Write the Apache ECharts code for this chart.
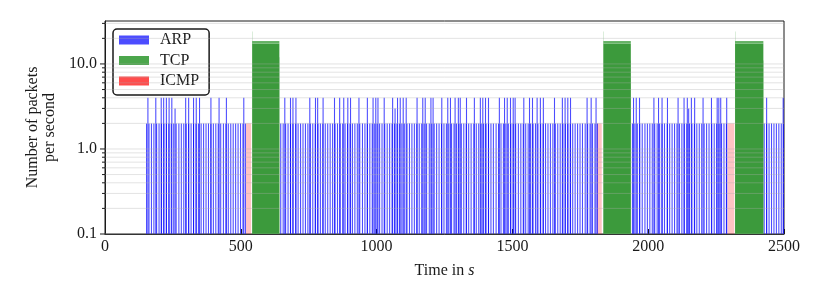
<!DOCTYPE html>
<html><head><meta charset="utf-8">
<script src="https://cdn.jsdelivr.net/npm/echarts@6/dist/echarts.min.js"></script>
<style>html,body{margin:0;padding:0;background:#fff}#c{width:822px;height:304px}</style>
</head><body><div id="c"></div>
<script>
// ---- tick values / labels ----
const xTicks = [0, 500, 1000, 1500, 2000, 2500];
const yMajorTicks = [0.1, 1, 10];
const yMajorLabels = ['0.1', '1.0', '10.0'];
const yMinorTicks = [0.2,0.3,0.4,0.5,0.6,0.7,0.8,0.9,2,3,4,5,6,7,8,9,20,30];

// ---- ARP: periodic packets (count 2) ----
const arpBaseCount = 2;
const arpBaseTimes = [
151,160,169,178,188,197,206,215,224,233,242,251,260,270,279,288,297,306,315,324,333,342,352,361,370,379,388,397,406,415,424,434,443,452,461,470,479,488,497,506,515,
645,654,663,672,681,690,700,709,718,727,736,745,754,763,772,782,791,800,809,818,827,836,845,854,864,873,882,891,900,909,918,927,936,946,955,964,973,982,991,1000,
1009,1018,1028,1037,1046,1055,1064,1073,1082,1091,1100,1110,1119,1128,1137,1146,1155,1164,1173,1182,1192,1201,1210,1219,1228,1237,1246,1255,1264,1274,1283,1292,
1301,1310,1319,1328,1337,1346,1356,1365,1374,1383,1392,1401,1410,1419,1428,1438,1447,1456,1465,1474,1483,1492,1501,1510,1520,1529,1538,1547,1556,1565,1574,1583,
1592,1602,1611,1620,1629,1638,1647,1656,1665,1674,1684,1693,1702,1711,1720,1729,1738,1747,1756,1766,1775,1784,1793,1802,1811,
1940,1949,1958,1967,1976,1986,1995,2004,2013,2022,2031,2040,2049,2058,2068,2077,2086,2095,2104,2113,2122,2131,2140,2150,2159,2168,2177,2186,2195,2204,2213,2222,
2232,2241,2250,2259,2268,2277,2286,
2425,2434,2443,2452,2461,2470,2479,2488,2497
];
// ---- ARP: bursts [time, count] ----
const arpBursts = [
[156,4],[185,4],[205,4],[214,4],[224,4],[234,4],[244,4],[256,3],[295,4],[306,4],[324,4],[334,4],[346,4],[388,4],[418,4],[445,4],[509,4],
[660,4],[681,4],[690,4],[701,4],[752,4],[773,4],[781,4],[801,4],[843,4],[862,4],[877,4],[892,4],[902,4],[933,4],[964,4],[985,4],[995,4],[1003,4],
[1026,4],[1057,4],[1066,3],[1075,4],[1085,4],[1096,4],[1107,4],[1147,4],[1168,4],[1177,4],[1198,4],[1206,4],[1238,4],[1260,4],[1270,4],[1287,4],
[1299,4],[1306,4],[1329,4],[1358,4],[1380,4],[1389,4],[1399,4],[1410,4],[1450,4],[1469,4],[1479,4],[1491,4],[1501,4],[1508,4],[1540,4],[1561,4],
[1572,4],[1589,4],[1601,4],[1612,4],[1653,4],[1682,4],[1692,4],[1702,4],[1712,4],[1773,4],[1788,4],[1806,4],
[1944,4],[1954,4],[1966,4],[2019,4],[2036,4],[2049,4],[2069,4],[2108,4],[2130,4],[2142,4],[2147,3],[2157,4],[2169,4],[2200,4],[2231,4],[2252,4],
[2258,4],[2265,4],[2287,4],
[2434,4],[2495,4]
];
// ---- TCP bursts: [start, end, sustained rate, peak rate] ----
const tcpBlocks = [[542,642,17.3,18.6],[1835,1936,17.3,18.6],[2320,2424,17.3,18.6]];
// ---- TCP single-second edges [time, count] ----
const tcpEdges = [[542,24],[1835,24],[2320,24],[641,12],[1935,11],[2423,11]];
// ---- ICMP: [start, end, count] ----
const icmpBlocks = [[519,538,2],[1811,1829,2],[2292,2317,2]];

const FONT = 'Liberation Serif';
const INK = '#1a1a1a';
const BLUE = 'rgba(0,0,255,0.7)', GREEN = 'rgba(0,128,0,0.7)', RED = 'rgba(255,0,0,0.7)';

function rect(api, t0, t1, v0, v1) {
  const a = api.coord([t0, v0]);
  const b = api.coord([t1, v1]);
  return { x: a[0], y: b[1], width: Math.max(b[0] - a[0], 0.4), height: a[1] - b[1] };
}
const yMin = yMajorTicks[0];

const chart = echarts.init(document.getElementById('c'), null, {renderer: 'canvas'});
chart.setOption({
  animation: false,
  backgroundColor: '#fff',
  grid: { left: 105, right: 38, top: 21, bottom: 70, show: true, borderColor: INK, borderWidth: 1, backgroundColor: 'transparent', outerBoundsMode: 'none' },
  legend: {
    data: ['ARP', 'TCP', 'ICMP'], orient: 'vertical', left: 113, top: 29,
    icon: 'rect', itemWidth: 30, itemHeight: 9, itemGap: 4.5,
    padding: [3, 10, 6, 6],
    backgroundColor: 'rgba(255,255,255,0.9)', borderColor: INK, borderWidth: 1.5, borderRadius: 4,
    textStyle: { fontFamily: FONT, fontSize: 16, color: INK, padding: [0, 0, 0, 6] },
    selectedMode: false
  },
  xAxis: {
    type: 'value', min: xTicks[0], max: xTicks[xTicks.length - 1], interval: xTicks[1] - xTicks[0],
    axisLine: { lineStyle: { color: INK, width: 1 } },
    axisTick: { inside: true, length: 5, lineStyle: { color: INK } },
    axisLabel: { margin: 5, fontFamily: FONT, fontSize: 16, color: INK, formatter: v => String(v) },
    splitLine: { show: false },
    name: 'Time in {i|s}', nameLocation: 'middle', nameGap: 29,
    nameTextStyle: { fontFamily: FONT, fontSize: 16, color: INK, rich: { i: { fontFamily: FONT, fontSize: 16, fontStyle: 'italic', color: INK } } }
  },
  yAxis: {
    type: 'log', logBase: 10, min: yMin, max: 32,
    axisLine: { show: true, lineStyle: { color: INK, width: 1 } },
    axisTick: { show: false }, minorTick: { show: false },
    splitLine: { show: false }, minorSplitLine: { show: false },
    axisLabel: {
      margin: 8, fontFamily: FONT, fontSize: 16, color: INK,
      formatter: function (v) {
        const i = yMajorTicks.findIndex(m => Math.abs(Math.log10(v) - Math.log10(m)) < 1e-6);
        return i >= 0 ? yMajorLabels[i] : '';
      }
    },
    name: 'Number of packets\nper second', nameLocation: 'middle', nameRotate: 90, nameGap: 46,
    nameTextStyle: { fontFamily: FONT, fontSize: 16, color: INK, lineHeight: 17, align: 'center' }
  },
  series: [
    { type: 'custom', name: 'ICMP', z: 2, clip: true, itemStyle: { color: RED },
      data: icmpBlocks, encode: { x: [0, 1], y: 2 },
      renderItem: (p, api) => ({ type: 'rect', shape: rect(api, api.value(0), api.value(1), yMin, api.value(2)), style: { fill: 'rgba(255,40,40,0.28)' } }) },
    { type: 'custom', name: 'ARP', z: 3, clip: true, itemStyle: { color: BLUE },
      data: arpBaseTimes.map(t => [t, arpBaseCount]).concat(arpBursts.map(b => [b[0], b[1], 1])),
      renderItem: (p, api) => {
        const burst = api.value(2) === 1;
        const w = burst ? 3 : 4;
        return { type: 'rect', shape: rect(api, api.value(0), api.value(0) + w, yMin, api.value(1)), style: { fill: burst ? 'rgba(0,0,255,0.42)' : BLUE } };
      } },
    { type: 'custom', name: 'TCP', z: 4, clip: true, itemStyle: { color: GREEN },
      data: tcpBlocks, encode: { x: [0, 1], y: [2, 3] },
      renderItem: (p, api) => ({ type: 'group', children: [
        { type: 'rect', shape: rect(api, api.value(0), api.value(1), yMin, api.value(2)), style: { fill: '#3c9a3c' } },
        { type: 'rect', shape: rect(api, api.value(0), api.value(1), api.value(2), api.value(3)), style: { fill: '#64b264' } }
      ] }) },
    { type: 'custom', name: 'TCP', z: 4, clip: true, itemStyle: { color: GREEN },
      data: tcpEdges,
      renderItem: (p, api) => ({ type: 'rect', shape: rect(api, api.value(0), api.value(0) + 1.5, yMin, api.value(1)), style: { fill: 'rgba(0,128,0,0.35)' } }) },
    // gridlines on top
    { type: 'custom', name: 'grid', z: 6, clip: false, silent: true,
      data: yMajorTicks.concat(yMinorTicks).map(v => [0, v]),
      renderItem: (p, api) => {
        const a = api.coord([xTicks[0], api.value(1)]);
        const b = api.coord([xTicks[xTicks.length - 1], api.value(1)]);
        return { type: 'line', shape: { x1: a[0], y1: a[1], x2: b[0], y2: b[1] }, style: { stroke: 'rgba(175,175,175,0.35)', lineWidth: 1 } };
      } },
    // y ticks (outward)
    { type: 'custom', name: 'yticks', z: 7, clip: false, silent: true,
      data: yMajorTicks.map(v => [0, v, 5]).concat(yMinorTicks.map(v => [0, v, 3])),
      renderItem: (p, api) => {
        const a = api.coord([xTicks[0], api.value(1)]);
        return { type: 'line', shape: { x1: a[0] - api.value(2), y1: a[1], x2: a[0], y2: a[1] }, style: { stroke: INK, lineWidth: 1 } };
      } }
  ]
});
</script></body></html>
